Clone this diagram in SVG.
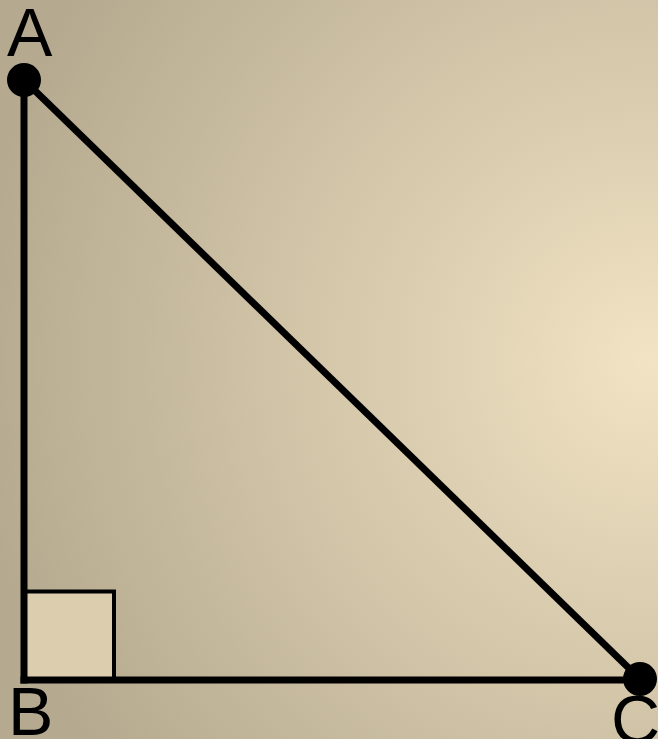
<svg xmlns="http://www.w3.org/2000/svg" width="658" height="739" viewBox="0 0 658 739">
<defs>
<radialGradient id="bg" gradientUnits="userSpaceOnUse" cx="650" cy="360" r="680">
<stop offset="0" stop-color="#f1e3c3"/>
<stop offset="1" stop-color="#b5a98f"/>
</radialGradient>
</defs>
<style>
.edge{stroke:#000;stroke-width:7;fill:none;stroke-linecap:butt}
.dot{fill:#000}
.lbl{font-family:"Liberation Sans",Arial,sans-serif;font-size:68px;fill:#000}
</style>
<rect width="658" height="739" fill="url(#bg)"/>
<g id="right-angle">
<rect x="24" y="591.5" width="90" height="88.5" fill="#dbcdae" stroke="#000" stroke-width="4"/>
</g>
<g id="connectors">
<line class="edge" x1="24" y1="80" x2="24" y2="683.5"/>
<line class="edge" x1="20.5" y1="680" x2="640" y2="680"/>
<line class="edge" x1="24" y1="80" x2="640" y2="679"/>
</g>
<g id="A">
<circle class="dot" cx="24" cy="80" r="17"/>
<text class="lbl" x="7" y="56">A</text>
</g>
<g id="B">
<text class="lbl" x="8" y="735">B</text>
</g>
<g id="C">
<circle class="dot" cx="640" cy="679" r="17"/>
<text class="lbl" x="611" y="743">C</text>
</g>
</svg>
